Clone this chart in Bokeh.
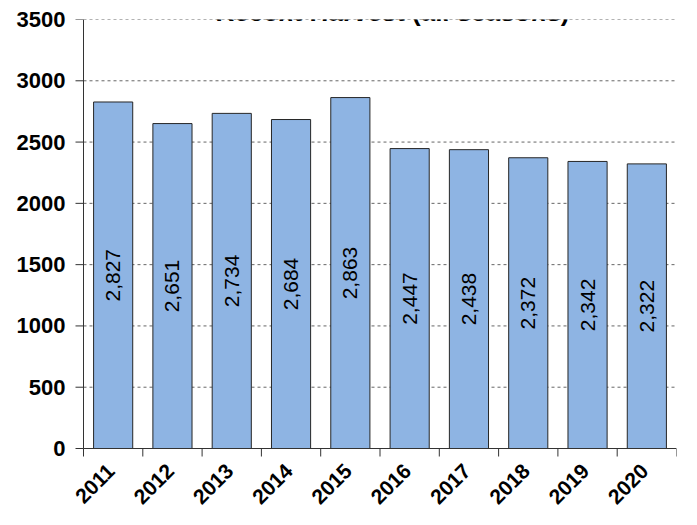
import math
from bokeh.plotting import figure
from bokeh.models import FixedTicker, Label, ColumnDataSource, Range1d
from bokeh.core.properties import value
from bokeh.embed import file_html
from bokeh.resources import INLINE

# ---- data ----
years = ["2011", "2012", "2013", "2014", "2015", "2016", "2017", "2018", "2019", "2020"]
harvest = [2827, 2651, 2734, 2684, 2863, 2447, 2438, 2372, 2342, 2322]
y_ticks = [0, 500, 1000, 1500, 2000, 2500, 3000, 3500]
title_text = "Recent Harvest (all seasons)"

FONT = "Liberation Sans"
AXIS_COLOR = "#333333"
n = len(years)
y_top = y_ticks[-1]

# layout (pixels)
W, H = 681, 509
AXIS_X, RIGHT, TOP = 83, 5, 19   # pixel position of the value axis line
PAD = 14                         # frame extends left of the axis so labels are not clipped
PLOT_PX = 429                    # pixels from 0 to y_top
BELOW_PX = H - TOP - PLOT_PX
upp = y_top / PLOT_PX            # data units per pixel (y)
y_min = -BELOW_PX * upp
cat_px = (W - AXIS_X - RIGHT) / n  # pixels per category
x_lo = -PAD / cat_px

centers = [i + 0.5 for i in range(n)]
bounds = [i for i in range(n + 1)]

src = ColumnDataSource(dict(
    x=centers,
    top=harvest,
    mid=[v / 2 for v in harvest],
    lab=[f"{v:,}" for v in harvest],
))
xsrc = ColumnDataSource(dict(
    x=[c - 2 / cat_px for c in centers],
    y=[-19 * upp] * n,
    year=years,
))
xtick_src = ColumnDataSource(dict(
    x=bounds,
    y0=[0] * (n + 1),
    y1=[-8 * upp] * (n + 1),
))
ytick_src = ColumnDataSource(dict(
    x0=[-8 / cat_px] * len(y_ticks),
    x1=[0] * len(y_ticks),
    y=y_ticks,
))
grid_src = ColumnDataSource(dict(
    x0=[0] * (len(y_ticks) - 1),
    x1=[n] * (len(y_ticks) - 1),
    y=y_ticks[1:],
))

p = figure(width=W, height=H,
           x_range=Range1d(x_lo, n), y_range=Range1d(y_min, y_top),
           x_axis_location=None,
           output_backend="svg", toolbar_location=None,
           min_border_left=AXIS_X - PAD, min_border_right=RIGHT,
           min_border_top=TOP, min_border_bottom=0)
p.outline_line_color = None
p.background_fill_color = "white"
p.border_fill_color = "white"
p.xgrid.visible = False
p.ygrid.visible = False

# dashed horizontal gridlines
p.segment(x0="x0", y0="y", x1="x1", y1="y", source=grid_src,
          line_color="#666666", line_dash="3 3", line_width=1)

p.vbar(x="x", top="top", bottom=0, width=0.66, source=src,
       fill_color="#8EB4E3", line_color="#262626", line_width=1)

p.text(x="x", y="mid", text="lab", source=src, angle=math.pi / 2,
       text_align="center", text_baseline="middle",
       text_font=value(FONT), text_font_size="21px", text_color="black")

# axis lines and ticks
p.segment(x0=0, y0=0, x1=n, y1=0, line_color=AXIS_COLOR, line_width=1)
p.segment(x0=0, y0=0, x1=0, y1=y_top, line_color=AXIS_COLOR, line_width=1)
p.segment(x0="x", y0="y0", x1="x", y1="y1", source=xtick_src,
          line_color=AXIS_COLOR, line_width=1)
p.segment(x0="x0", y0="y", x1="x1", y1="y", source=ytick_src,
          line_color=AXIS_COLOR, line_width=1)

# x labels
p.text(x="x", y="y", text="year", source=xsrc, angle=math.pi / 4,
       text_align="right", text_baseline="middle",
       text_font=value(FONT), text_font_style="bold",
       text_font_size="21px", text_color="black")

ya = p.yaxis[0]
ya.ticker = FixedTicker(ticks=y_ticks)
ya.axis_line_color = None
ya.major_tick_line_color = None
ya.major_tick_out = 0
ya.major_tick_in = 0
ya.minor_tick_out = 0
ya.minor_tick_in = 0
ya.major_label_text_font = FONT
ya.major_label_text_font_style = "bold"
ya.major_label_text_font_size = "22px"
ya.major_label_text_color = "black"
ya.major_label_standoff = AXIS_X - 8 - 63 - PAD + 12 - 12 + 6

p.add_layout(Label(x=(392 - AXIS_X) / cat_px, y=y_top + 8 * upp, text=title_text,
                   text_align="center", text_baseline="alphabetic", text_font=FONT,
                   text_font_style="bold", text_font_size="26px",
                   text_color="black"))

open("out.html", "w").write(file_html(p, INLINE))
